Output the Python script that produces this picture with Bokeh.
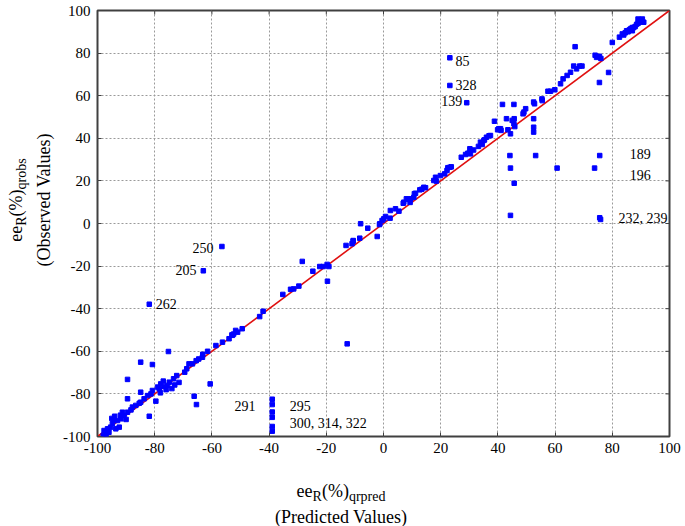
import math
from bokeh.plotting import figure
from bokeh.models import FixedTicker, Div, Row, Column
from bokeh.embed import file_html
from bokeh.resources import INLINE
from bokeh.core.properties import value

FONT = "'Liberation Serif', 'Times New Roman', serif"

# ---- data (predicted, observed) ----
pred = [82.5, 83.5, 84.5, 85, 85.5, 86, 86.5, 87, 87.5, 88, 88.5, 89, 89.5, 90, 90.5, 91, 89, 87, 84,
        80, 67, 74, 74.5, 75.5, 76, 75.5, 78.7,
        66.5, 68.6, 69.4, 67.5, 65.4, 64.2, 62.8, 61.9, 59.9, 58.4, 57.5, 55.4, 52.8, 49.7, 49.1, 48.8,
        45.7, 45, 45.6, 45.9, 43, 41.6, 45.6, 38.8, 40.3, 41.1, 44.4, 52.5, 52.5, 52.5, 52.5, 55.5, 40.9, 39.9, 43.5,
        33.9, 35.1, 36, 37.4, 34.5, 33.2, 30.2, 28.7, 27.2, 30.4, 23.2, 22.2, 21.4, 19.9, 18.2, 17.6, 18.5,
        14.7, 14.1, 12.7, 13.4, 11.2, 10.8, 10.6, 8.8, 8, 9.5, 9.3, 7.1, 6.9, 4.2, 5.4, 2.4, 0.7, 0.1, 2.3, -0.5,
        23.7, 22.5, 36.9, 35.3, 31.5, 29.5,
        23.2, 23.2, 29.1,
        44.2, 53.2, 75.6, 44.4, 60.7, 73.8, 45.7, 44.4, 75.6, 75.9,
        -1.3, -1.4, -8, -5.5, -8.3, -2.2, -10.6, -10.6, -11, -13.1, -28.4, -24.7, -22.3, -21.1, -19.7, -19.1,
        -19.6, -29.6, -31.4, -32.5, -35.2, -42.1, -43.3, -49.4, -51.7, -52.4, -53, -12.7,
        -56.5, -63, -81.9,
        -58.6, -56.3, -54, -52.8, -51,
        -75.2, -84.9, -80.8, -89.5, -84.9, -89.5, -79.6, -81.9, -66.2, -65.4, -60.6,
        -61.5, -63.2, -63.3, -64.6, -65.5, -66.8, -68, -68.8, -69.5, -72.3, -73.4, -74.9, -75.5, -76.7,
        -77.9, -78.4, -79, -80.8, -81.3, -82.5, -83.7, -84.9, -85.4, -86.6, -87.8, -88.3, -89.5, -90.7,
        -91.8, -93, -94.2, -94.8, -95.4, -96.5, -97.7, -93.6, -92.4, -96, -91.3,
        -78, -77, -76, -74, -73, -71.5, -92, -94, -90, -95, -97, -98,
        -38.9, -38.9, -38.9, -38.9, -38.9, -38.9]
obs = [87.5, 89, 89.5, 90.5, 90, 91, 91.5, 92, 92, 92.5, 93.5, 94, 94.5, 95, 96, 94.5, 96, 90.5, 88.5,
       85, 83, 79, 78, 78.5, 77.5, 66.2, 70.9,
       73.9, 73.9, 73.9, 72.6, 71, 69.5, 67.9, 65.6, 62.8, 62.1, 62.1, 58.5, 56.2, 53.9, 52.3, 51.5,
       49.2, 48.4, 46.8, 45.5, 49.2, 55.9, 55.9, 48, 44.5, 43.7, 42.1, 57, 49.2, 45.2, 42.9, 57.7, 44.5, 44, 44,
       38.2, 39, 40.5, 41.3, 37.1, 36.2, 35.1, 32.4, 31.1, 32.7, 26.4, 24.9, 23.3, 22.5, 21.7, 20.2, 19.9,
       16.8, 17, 15.8, 16.1, 14.2, 14, 12.3, 11.3, 11.6, 11.6, 9.9, 10, 9.5, 6.9, 5.8, 6.1, 3.3, 2.2, 2.5, 1.4,
       26.6, 26.2, 41.2, 39.3, 34.5, 33,
       77.8, 64.8, 56.7,
       31.9, 31.9, 31.9, 26, 26, 26, 18.9, 3.8, 2.7, 1.9,
       -0.1, -0.5, -0.1, -2.2, -6.9, -6.1, -8, -8.3, -9.5, -10.3, -17.8, -22.4, -20.2, -20.2, -19.2, -20.2,
       -27.1, -29.4, -30.7, -30.9, -33.3, -41.2, -43.7, -49.4, -50.2, -51.9, -52.3, -56.5,
       -10.8, -22.2, -37.9,
       -57.3, -55.7, -54.1, -52.5, -51,
       -60.1, -65.1, -66.2, -73.2, -79.2, -82.3, -83.4, -90.5, -81.1, -85, -75.3,
       -60, -61.4, -62.8, -63.6, -64.4, -65.9, -65.9, -68.2, -69.8, -71.4, -72.9, -74.5, -76, -76.5,
       -75.3, -77.6, -76.8, -78.4, -80, -80.8, -82.3, -83.9, -84.4, -85.4, -86.2, -87.5, -88.6, -90.1,
       -91.7, -92.5, -92.5, -94, -95.6, -96.4, -97.2, -96.4, -95.6, -98, -88.6,
       -79.5, -74, -78, -77.5, -75.8, -74.6, -90, -90.5, -92, -91.5, -99, -99.5,
       -82.5, -85, -88.5, -91, -95.3, -97.5]

fit_x = [-100, 100]
fit_y = [-100, 100]

ticks = [-100, -80, -60, -40, -20, 0, 20, 40, 60, 80, 100]
tick_labels = ["-100", "-80", "-60", "-40", "-20", "0", "20", "40", "60", "80", "100"]

# point-number annotations
ann_left_text = ["262", "295", "300, 314, 322", "85", "328", "189", "196", "232, 239"]
ann_left_x = [-79.6, -32.8, -32.8, 25.2, 25.2, 86.1, 86.1, 82.2]
ann_left_y = [-38, -85.8, -93.8, 76.2, 64.8, 32.7, 23, 2.2]
ann_right_text = ["250", "205", "139"]
ann_right_x = [-59.4, -65.4, 27.5]
ann_right_y = [-11.3, -22, 57.7]
ann_center_text = ["291"]
ann_center_x = [-48.4]
ann_center_y = [-85.8]

p = figure(width=629, height=470, x_range=(-100, 100), y_range=(-100, 100),
           output_backend="svg", toolbar_location=None,
           min_border_left=41, min_border_right=16, min_border_top=10, min_border_bottom=34,
           background_fill_color="white", border_fill_color="white", margin=0)

p.outline_line_color = "#404040"
p.outline_line_width = 2

overrides = {t: s for t, s in zip(ticks, tick_labels)}
for ax in (p.xaxis[0], p.yaxis[0]):
    ax.ticker = FixedTicker(ticks=ticks)
    ax.major_label_overrides = overrides
    ax.axis_line_color = None
    ax.major_tick_in = 4
    ax.major_tick_out = 0
    ax.minor_tick_line_color = None
    ax.major_tick_line_color = "#404040"
    ax.major_label_text_font = FONT
    ax.major_label_text_font_size = "15px"
    ax.major_label_text_color = "black"
p.yaxis[0].major_label_standoff = 7
p.xaxis[0].major_label_standoff = 6

p.grid.ticker = FixedTicker(ticks=ticks)
p.grid.grid_line_color = "#9a9a9a"
p.grid.grid_line_dash = "2 2"
p.grid.grid_line_width = 1

# inward tick marks on the top and right frame edges (half of each dash is clipped by the frame)
edge_hi = [100] * len(ticks)
p.scatter(ticks, edge_hi, marker="dash", size=8, angle=math.pi / 2, line_color="#404040", line_width=1)
p.scatter(edge_hi, ticks, marker="dash", size=8, angle=0, line_color="#404040", line_width=1)

p.line(fit_x, fit_y, line_color="#e01010", line_width=1.6)
p.scatter(pred, obs, marker="square", size=4.5, fill_color="#0000ff", line_color="#0000ff")

p.text(ann_left_x, ann_left_y, text=ann_left_text, text_font=value(FONT), text_font_size="14px",
       text_align="left", text_baseline="middle", text_color="black")
p.text(ann_right_x, ann_right_y, text=ann_right_text, text_font=value(FONT), text_font_size="14px",
       text_align="right", text_baseline="middle", text_color="black")
p.text(ann_center_x, ann_center_y, text=ann_center_text, text_font=value(FONT), text_font_size="14px",
       text_align="center", text_baseline="middle", text_color="black")

SUB = "font-size:14px;position:relative;top:4px;"
ylab_html = (
    "<div style=\"position:relative;width:56px;height:526px;font-family:'Liberation Serif',serif;color:black;\">"
    "<div style=\"position:absolute;left:3px;top:350px;width:300px;transform-origin:0 0;"
    "transform:rotate(-90deg);text-align:center;font-size:18px;line-height:26px;white-space:nowrap;\">"
    f"ee<span style=\"{SUB}\">R</span>(%)<span style=\"{SUB}\">qrobs</span><br>(Observed Values)"
    "</div></div>"
)
xlab_html = (
    "<div style=\"font-family:'Liberation Serif',serif;color:black;font-size:18px;line-height:24px;"
    "text-align:center;width:570px;padding-top:9px;white-space:nowrap;\">"
    f"ee<span style=\"{SUB}\">R</span>(%)<span style=\"{SUB}\">qrpred</span><br>(Predicted Values)"
    "</div>"
)

div_y = Div(text=ylab_html, width=56, height=526, margin=0)
div_x = Div(text=xlab_html, width=629, height=56, margin=0)

layout = Row(children=[div_y, Column(children=[p, div_x], spacing=0, margin=0)], spacing=0, margin=0)

open("out.html", "w").write(file_html(layout, INLINE))
